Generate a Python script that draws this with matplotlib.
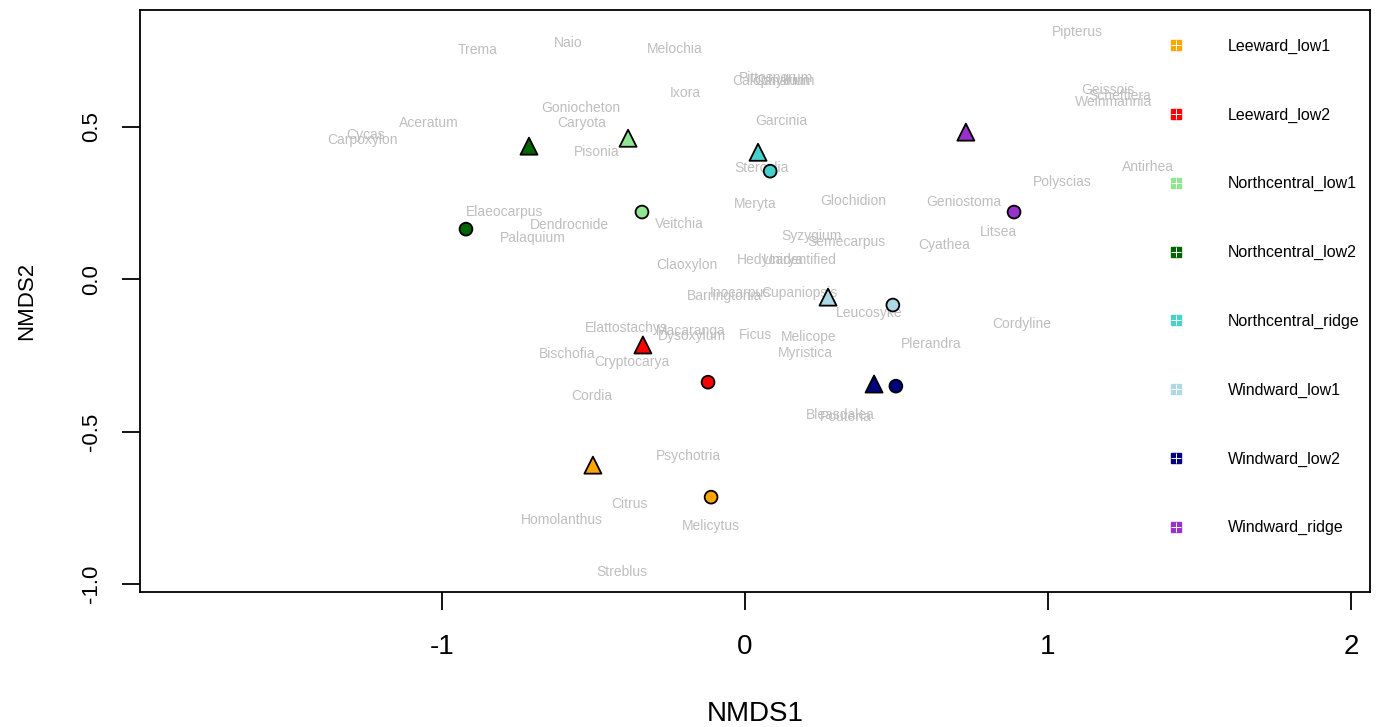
"""
NMDS ordination plot: site centroids (triangles / circles) with genus labels.
Writes out.png.
"""
import matplotlib
matplotlib.use("Agg")
import matplotlib.pyplot as plt
from matplotlib.lines import Line2D
from matplotlib.legend_handler import HandlerTuple

plt.rcParams["font.family"] = ["Liberation Sans", "DejaVu Sans"]

# --- groups ---
groups = ["Leeward_low1", "Leeward_low2", "Northcentral_low1", "Northcentral_low2",
          "Northcentral_ridge", "Windward_low1", "Windward_low2", "Windward_ridge"]
colors = ["#FFA500", "#FF0000", "#90E690", "#006400",
          "#48D1CC", "#ADD8E6", "#000080", "#9932CC"]

# triangle site scores per group
tri_x = [-0.502, -0.337, -0.386, -0.713, 0.043, 0.274, 0.426, 0.729]
tri_y = [-0.610, -0.216, 0.462, 0.436, 0.416, -0.059, -0.344, 0.482]
# circle site scores per group
circ_x = [-0.112, -0.122, -0.340, -0.921, 0.083, 0.488, 0.498, 0.888]
circ_y = [-0.715, -0.338, 0.220, 0.164, 0.354, -0.085, -0.351, 0.220]

# --- species (genus) scores ---
genus = ["Trema", "Naio", "Melochia", "Ixora", "Goniocheton", "Caryota", "Aceratum",
         "Cycas", "Carpoxylon", "Pisonia", "Elaeocarpus", "Dendrocnide", "Palaquium",
         "Veitchia", "Claoxylon", "Garcinia", "Calophyllum", "Pittosporum", "Canarium",
         "Sterculia", "Meryta", "Glochidion", "Geniostoma", "Polyscias", "Litsea",
         "Cyathea", "Syzygium", "Semecarpus", "Hedycarya", "Unidentified",
         "Barringtonia", "Inocarpus", "Cupaniopsis", "Leucosyke", "Elattostachys",
         "Macaranga", "Dysoxylum", "Ficus", "Melicope", "Myristica", "Bischofia",
         "Cryptocarya", "Plerandra", "Cordyline", "Cordia", "Bleasdalea", "Pouteria",
         "Psychotria", "Citrus", "Homolanthus", "Melicytus", "Streblus", "Pipterus",
         "Geissois", "Schefflera", "Weinmannia", "Antirhea"]
gx = [-0.881, -0.584, -0.231, -0.198, -0.541, -0.538, -1.043,
      -1.251, -1.261, -0.488, -0.792, -0.578, -0.700,
      -0.215, -0.191, 0.119, 0.083, 0.102, 0.132,
      0.053, 0.033, 0.356, 0.723, 1.046, 0.838,
      0.657, 0.218, 0.333, 0.083, 0.182,
      -0.066, -0.017, 0.178, 0.409, -0.393,
      -0.178, -0.175, 0.033, 0.211, 0.198, -0.587,
      -0.373, 0.614, 0.914, -0.505, 0.314, 0.333,
      -0.188, -0.380, -0.604, -0.112, -0.406, 1.096,
      1.198, 1.238, 1.215, 1.330]
gy = [0.751, 0.774, 0.754, 0.610, 0.561, 0.511, 0.511,
      0.472, 0.456, 0.416, 0.220, 0.177, 0.134,
      0.180, 0.046, 0.518, 0.649, 0.659, 0.649,
      0.364, 0.246, 0.256, 0.252, 0.318, 0.154,
      0.111, 0.141, 0.121, 0.062, 0.062,
      -0.056, -0.046, -0.046, -0.111, -0.161,
      -0.170, -0.187, -0.184, -0.190, -0.243, -0.246,
      -0.272, -0.213, -0.148, -0.384, -0.446, -0.452,
      -0.580, -0.738, -0.790, -0.810, -0.961, 0.810,
      0.620, 0.600, 0.580, 0.367]

fig = plt.figure(figsize=(13.79, 7.27), dpi=100)
ax = fig.add_axes([0.1015, 0.1857, 0.892, 0.8003])

for x, y, c in zip(gx, gy, genus):
    ax.text(x, y, c, color="#BEBEBE", fontsize=10, ha="center", va="center")

ax.scatter(circ_x, circ_y, s=85, c=colors, edgecolors="black", linewidths=1.3,
           marker="o", zorder=3)
ax.scatter(tri_x, tri_y, s=150, c=colors, edgecolors="black", linewidths=1.3,
           marker="^", zorder=3)

ax.set_xlim(-1.997, 2.063)
ax.set_ylim(-1.026, 0.882)
ax.set_xticks([-1, 0, 1, 2])
ax.set_xticklabels(["-1", "0", "1", "2"])
ax.set_yticks([-1.0, -0.5, 0.0, 0.5])
ax.set_yticklabels(["-1.0", "-0.5", "0.0", "0.5"], rotation=90, va="center")
ax.tick_params(axis="both", direction="out", length=13, width=1.3)
ax.tick_params(axis="x", labelsize=20, pad=17)
ax.tick_params(axis="y", labelsize=16, pad=14)
for sp in ax.spines.values():
    sp.set_linewidth(1.3)

ax.set_xlabel("NMDS1", fontsize=20, labelpad=30)
ax.set_ylabel("NMDS2", fontsize=16, labelpad=32)

# legend: coloured squares with a white cross, like R's pch 12
handles = []
for c in colors:
    sq = Line2D([], [], marker="s", color=c, ls="none", markersize=6.5)
    cr = Line2D([], [], marker="+", color="white", ls="none", markersize=6.5,
                markeredgewidth=0.7)
    handles.append((sq, cr))
ax.legend(handles, groups, handler_map={tuple: HandlerTuple(ndivide=1)},
          loc="upper left", bbox_to_anchor=(0.836, 0.951), frameon=False,
          fontsize=11.5, handlelength=1.0, handletextpad=2.75, labelspacing=3.36,
          borderpad=0, borderaxespad=0)

plt.savefig("out.png", dpi=100)
